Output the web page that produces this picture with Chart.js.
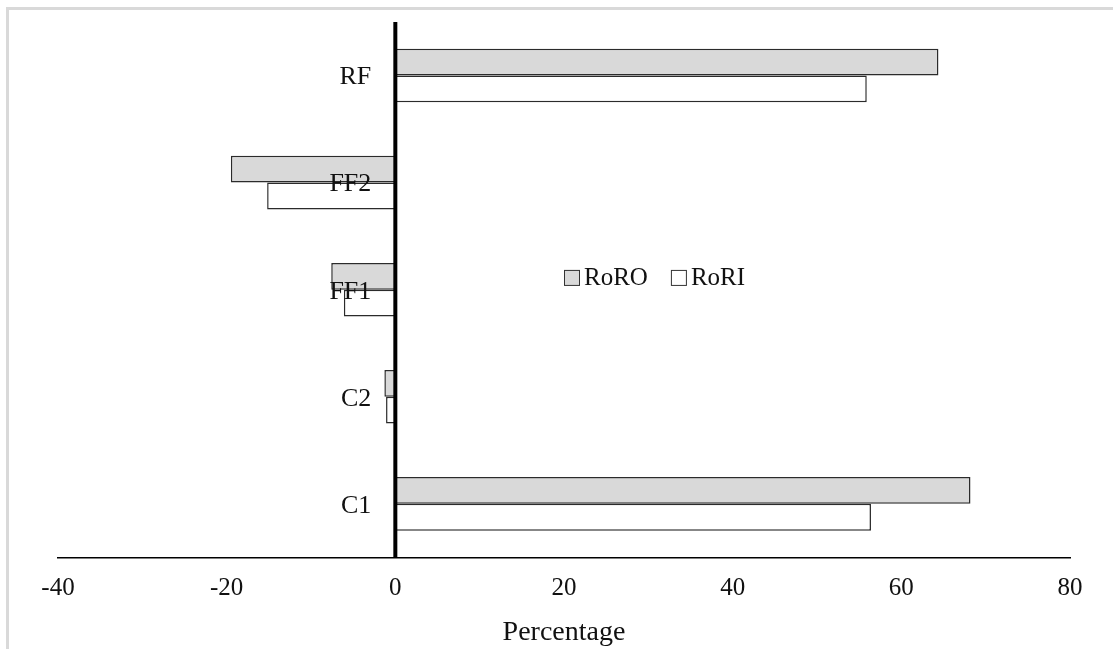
<!DOCTYPE html>
<html>
<head>
<meta charset="utf-8">
<script src="https://cdn.jsdelivr.net/npm/chart.js@4"></script>
<style>
  html, body { margin: 0; padding: 0; background: #fff; }
  #wrap { width: 1113px; height: 649px; position: relative; }
</style>
</head>
<body>
<div id="wrap"><canvas id="barchart"></canvas></div>
<script>
// categories listed top to bottom as they appear
const categories = ['RF', 'FF2', 'FF1', 'C2', 'C1'];
const roro = [64.4, -19.5, -7.6, -1.3, 68.2];
const rori = [55.9, -15.2, -6.1, -1.1, 56.4];
const seriesNames = ['RoRO', 'RoRI'];
const xTicks = [-40, -20, 0, 20, 40, 60, 80];

const serif = "'Liberation Serif', 'Times New Roman', serif";

// light grey frame on left and top
const framePlugin = {
  id: 'frame',
  beforeDraw(chart) {
    const c = chart.ctx;
    c.save();
    c.fillStyle = '#d9d9d9';
    c.fillRect(6, 7, 3, chart.height - 7);
    c.fillRect(6, 7, chart.width - 6, 3);
    c.restore();
  }
};

// zero line, category labels next to it, and legend inside plot
const overlayPlugin = {
  id: 'overlay',
  afterDatasetsDraw(chart) {
    const c = chart.ctx;
    const xs = chart.scales.x, ys = chart.scales.y;
    const area = chart.chartArea;
    const x0 = xs.getPixelForValue(0);
    c.save();
    c.strokeStyle = '#000';
    c.lineWidth = 4;
    c.beginPath();
    c.moveTo(x0, area.top);
    c.lineTo(x0, area.bottom);
    c.stroke();

    c.fillStyle = '#111';
    c.font = '26px ' + serif;
    c.textAlign = 'right';
    c.textBaseline = 'middle';
    categories.forEach(function (lab, i) {
      c.fillText(lab, x0 - 24, ys.getPixelForValue(i) + 2);
    });

    // legend
    c.font = '25px ' + serif;
    c.textAlign = 'left';
    let lx = area.left + 0.5 * (area.right - area.left);
    const ly = area.top + 0.478 * (area.bottom - area.top);
    chart.data.datasets.forEach(function (ds) {
      c.fillStyle = ds.backgroundColor;
      c.fillRect(lx, ly - 8, 16, 16);
      c.strokeStyle = '#333';
      c.lineWidth = 1;
      c.strokeRect(lx + 0.5, ly - 7.5, 15, 15);
      c.fillStyle = '#111';
      c.fillText(ds.label, lx + 20, ly + 1);
      lx += 20 + c.measureText(ds.label).width + 23;
    });
    c.restore();
  }
};

const ctx = document.getElementById('barchart');
new Chart(ctx, {
  type: 'bar',
  data: {
    labels: categories,
    datasets: [{
      label: seriesNames[0],
      data: roro,
      backgroundColor: '#d9d9d9',
      borderColor: '#2b2b2b',
      borderWidth: 1.5,
      categoryPercentage: 0.5,
      barPercentage: 1.0
    }, {
      label: seriesNames[1],
      data: rori,
      backgroundColor: '#ffffff',
      borderColor: '#2b2b2b',
      borderWidth: 1.5,
      categoryPercentage: 0.5,
      barPercentage: 1.0
    }]
  },
  options: {
    indexAxis: 'y',
    responsive: true,
    maintainAspectRatio: false,
    animation: false,
    layout: { padding: { left: 58, right: 43, top: 22, bottom: 0 } },
    plugins: {
      legend: { display: false },
      tooltip: { enabled: false }
    },
    scales: {
      x: {
        min: xTicks[0],
        max: xTicks[xTicks.length - 1],
        afterBuildTicks: function (scale) {
          scale.ticks = xTicks.map(function (v) { return { value: v }; });
        },
        grid: { display: false, drawTicks: false },
        border: { display: true, color: '#000', width: 1.5 },
        ticks: {
          color: '#111',
          padding: 16,
          maxRotation: 0,
          font: { family: serif, size: 25 }
        },
        title: {
          display: true,
          text: 'Percentage',
          color: '#111',
          padding: { top: -4, bottom: 0 },
          font: { family: serif, size: 28 }
        }
      },
      y: {
        display: false
      }
    }
  },
  plugins: [framePlugin, overlayPlugin]
});
</script>
</body>
</html>
